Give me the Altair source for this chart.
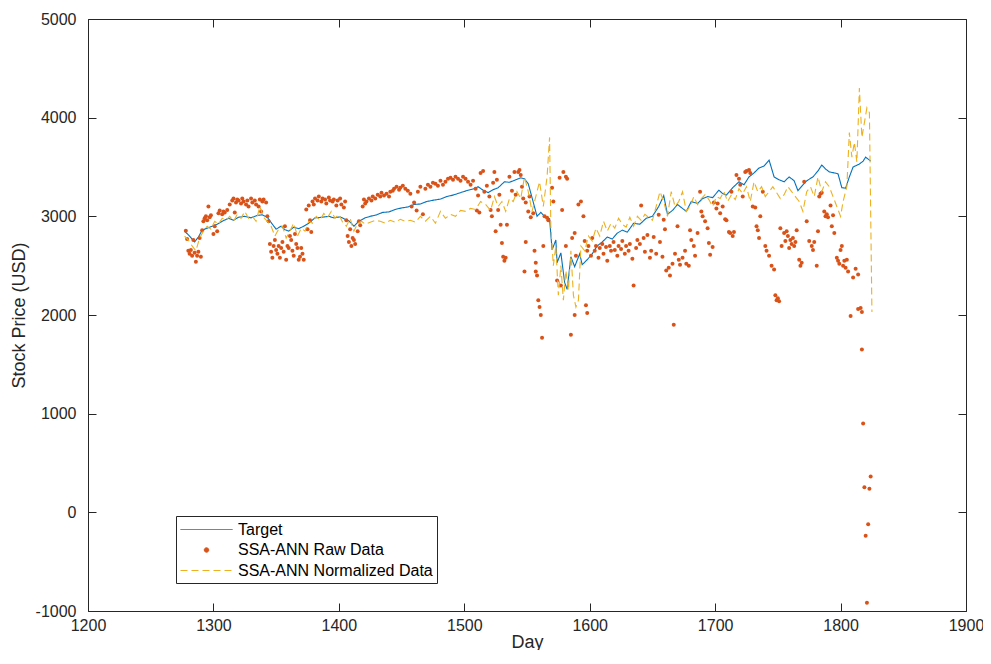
import altair as alt
import pandas as pd

# ---------------- data ----------------
target_day = [1277,1281,1285,1288,1291,1295,1299,1303,1307,1312,1316,1320,1325,1330,1335,1339,1343,1347,1350,1354,
              1357,1360,1364,1368,1372,1376,1381,1386,1392,1396,1401,1405,1408,1412,1416,1421,1425,1430,1435,1440,
              1445,1450,1455,1460,1465,1470,1476,1481,1486,1491,1497,1503,1508,1511,1515,1519,1523,1527,1532,1536,
              1541,1545,1548,1551,1554,1558,1561,1565,1568,1570,1573,1574,1577,1580,1582,1585,1588,1592,1594,1598,
              1602,1606,1610,1614,1618,1622,1626,1630,1635,1640,1645,1650,1655,1659,1662,1666,1670,1674,1677,1681,
              1686,1690,1694,1698,1703,1706,1709,1714,1719,1723,1727,1731,1735,1739,1743,1747,1751,1755,1759,1763,
              1766,1770,1773,1778,1782,1785,1788,1791,1795,1798,1801,1804,1807,1810,1815,1818,1820,1822,1824]
target_val = [2850,2800,2740,2790,2860,2880,2900,2920,2950,2980,2960,2990,3000,2985,3010,3015,2990,2920,2870,2900,
              2865,2850,2890,2875,2900,2930,2985,2990,3000,2985,2995,2970,2955,2900,2950,2985,3000,3015,3040,3045,
              3070,3085,3095,3120,3125,3150,3165,3175,3200,3215,3240,3265,3280,3300,3265,3240,3270,3290,3350,3345,
              3370,3390,3380,3330,3190,3000,3040,2985,2975,2660,2760,2530,2630,2330,2260,2590,2490,2620,2510,2560,
              2620,2700,2740,2790,2770,2830,2860,2840,2930,2920,2980,3000,3100,3210,3020,3060,3120,3080,3050,3150,
              3130,3180,3200,3190,3265,3230,3215,3290,3350,3320,3400,3440,3490,3510,3570,3400,3370,3350,3400,3360,
              3260,3320,3360,3400,3460,3520,3480,3450,3440,3430,3290,3285,3400,3500,3530,3560,3600,3580,3560]

norm_day = [1277,1280,1283,1286,1289,1292,1295,1298,1301,1304,1307,1310,1313,1316,1319,1322,1325,1328,1331,1334,
            1337,1340,1343,1346,1349,1352,1355,1358,1361,1364,1367,1370,1373,1376,1379,1382,1385,1388,1391,1394,
            1397,1400,1403,1406,1409,1412,1415,1418,1421,1425,1429,1433,1437,1441,1445,1449,1453,1457,1461,1465,
            1469,1473,1477,1481,1485,1489,1493,1497,1501,1505,1509,1513,1517,1521,1524,1527,1530,1533,1536,1539,
            1542,1545,1548,1551,1554,1557,1560,1563,1566,1568,1569,1571,1573,1575,1577,1579,1581,1583,1585,1587,
            1589,1591,1593,1596,1599,1602,1605,1608,1611,1614,1617,1620,1623,1626,1629,1632,1635,1638,1641,1644,
            1647,1650,1653,1656,1659,1662,1665,1668,1671,1674,1677,1680,1683,1686,1689,1692,1695,1698,1701,1704,
            1707,1710,1713,1716,1719,1722,1725,1728,1731,1734,1737,1740,1743,1746,1749,1752,1755,1758,1761,1764,
            1767,1770,1773,1776,1779,1782,1785,1788,1791,1794,1797,1800,1802,1805,1807,1809,1811,1813,1815,1817,
            1819,1821,1823,1825]
norm_val = [2800,2760,2700,2650,2780,2850,2900,2870,2950,2920,2980,2960,3000,2950,3020,2980,3050,2980,3000,2950,
            3100,2990,2950,2900,2800,2870,2900,2780,2850,2930,2800,2880,2850,2950,2930,3000,2960,3030,2990,3050,
            2980,3020,2940,2900,2980,2850,2930,2950,2920,2940,2960,2950,2930,2960,2940,2970,2950,2960,2940,3000,
            2950,3000,2930,3050,2980,3020,3000,3060,3050,3080,3070,3150,3120,3060,3200,3100,3150,3050,3180,3150,
            3250,3180,3400,3250,3050,3200,3350,3100,3400,3800,2900,2500,2700,2200,2500,2150,2450,2250,2650,2200,
            2080,2150,2700,2650,2800,2750,2880,2800,2950,2850,2930,2880,2980,2920,2890,2990,2900,3000,2960,3020,
            2990,2960,3100,3250,3150,3000,3250,3100,3150,3250,3050,3100,3200,3120,3180,3220,3170,3100,3200,3180,
            3250,3150,3220,3170,3280,3230,3300,3150,3350,3250,3300,3200,3250,3300,3240,3180,3220,3300,3250,3200,
            3150,3050,3250,3300,3200,3400,3250,3350,3300,3200,3100,3000,3150,3300,3850,3600,3750,3550,4300,3800,
            3950,4100,4050,2030]

raw_day = [1278,1279,1280,1281,1282,1283,1284,1285,1286,1287,1288,1289,1290,1291,1292,1293,1294,1295,1296,1297,
           1298,1300,1301,1303,1304,1305,1307,1308,1309,1311,
           1313,1315,1316,1317,1318,1319,1320,1322,1323,1324,1326,1327,1328,1330,1331,1333,1334,1336,1337,1338,
           1339,1340,1342,1343,1344,
           1345,1346,1347,1348,1349,1350,1351,1352,1353,1354,1355,1356,1357,1358,1359,1360,1361,1362,1363,1364,
           1365,1366,1367,1368,1369,1370,1371,1372,1374,1375,1376,1377,1378,
           1379,1380,1381,1383,1384,1386,1387,1389,1390,1392,1393,1395,1396,1398,1399,1401,1402,1404,1405,
           1406,1407,1408,1409,1410,1411,1412,1413,1415,1416,1417,1419,1420,1421,
           1422,1424,1426,1427,1429,1431,1433,1434,1436,1438,1440,1441,1443,1444,1446,1448,1449,1451,1453,1455,
           1457,1458,1460,1462,1463,1465,1467,1469,1471,1473,1475,1477,1479,1481,1483,1485,1487,1489,1491,1493,
           1495,1497,1499,1501,1503,1505,1507,1509,1510,1511,1512,1513,1515,1516,1518,1520,
           1521,1522,1523,1524,1525,1526,1527,1528,1529,1530,1531,1532,1533,1534,1536,1538,1540,1541,1543,1544,
           1545,1546,1547,1548,1549,1549,1551,1552,1553,1555,1556,1557,1557,1558,1559,1560,1561,1562,1563,1564,
           1566,1567,1570,1571,1574,1576,1577,1578,1579,1581,1581,1582,1585,1586,1588,1588,1589,1591,1593,1595,
           1597,1598,
           1596,1598,1599,1601,1602,1604,1605,1607,1608,1610,1611,1613,1614,1616,1617,1619,1620,1622,1623,1625,
           1626,1628,1629,1631,1632,1634,1635,1637,1638,1640,1641,1643,1644,1646,1648,1649,
           1651,1653,1655,1656,1658,1659,1660,1661,1663,1664,1666,1667,1668,1670,1671,1672,1674,1676,1677,1679,
           1680,1681,1683,1684,1686,1688,1689,1690,1692,1694,1695,1696,1698,1699,1701,1702,1704,1706,1708,1709,
           1711,1712,1713,1714,1715,1717,1719,1720,1722,1724,1725,1727,1728,1730,1732,1733,1734,1735,1736,1738,
           1740,1741,1743,1745,1747,1748,1749,1750,1751,1752,1753,1755,1756,
           1757,1758,1759,1760,1761,1762,1763,1764,1765,1767,1768,1769,1771,1773,1775,1777,1778,1779,1781,1782,
           1783,1784,1785,1787,1788,1789,1790,1792,1793,1794,1795,1797,1798,1799,1800,1801,1802,1803,1804,1805,
           1806,1808,1810,1812,1814,1814,1816,1817,1817,1818,1819,1820,1821,1822,1823,1824]
raw_val = [2855,2770,2650,2620,2660,2600,2760,2630,2540,2600,2640,2780,2590,2860,2950,2980,3000,2960,3100,2990,
           3010,2820,2900,2850,3030,3060,3020,3050,3040,3065,
           3120,3160,3180,3040,3140,3170,3160,3130,3180,3150,3120,3160,3100,3180,3140,3160,3120,3100,3170,3050,
           3150,3170,3140,3000,2950,
           2720,2640,2580,2700,2760,2660,2620,2700,2580,2680,2740,2640,2900,2560,2700,2680,2800,2760,2650,2600,
           2820,2720,2680,2560,2590,2680,2620,2560,3070,2870,3110,2960,2840,
           3150,3120,3180,3160,3200,3150,3180,3170,3130,3190,3160,3150,3170,3110,3160,3180,3120,3090,3150,
           2960,2800,2740,2870,2700,2780,2760,2720,2850,2950,2910,3100,3170,3130,
           3150,3180,3160,3200,3180,3220,3200,3240,3210,3230,3200,3250,3260,3280,3300,3270,3290,3310,3280,3260,
           3230,3100,3140,3060,3250,3300,3020,3280,3320,3300,3340,3330,3310,3360,3320,3350,3380,3390,3370,3400,
           3380,3360,3400,3380,3350,3320,3360,3280,3060,3210,3040,3440,3460,3250,3310,3200,
           3065,3000,3340,3450,2850,3370,3065,3220,2915,2730,2590,2550,2580,2915,3400,3260,3450,3220,3450,3470,
           3420,3300,3180,2440,2740,3140,3050,3200,2990,3030,2650,2530,2440,2400,2150,2080,2000,1770,2700,3000,
           2985,2960,3290,3150,2350,3390,2300,3065,3450,3400,2700,3380,1800,2780,2000,2830,2600,3120,3150,3000,
           2100,2020,
           2750,2650,2700,2600,2780,2650,2700,2580,2680,2720,2620,2690,2550,2700,2650,2740,2660,2600,2700,2670,
           2750,2620,2700,2650,2720,2570,2300,2680,2760,2720,3110,2780,2640,2810,2580,2650,
           2790,2620,3015,2740,2590,2965,2870,2450,2480,2400,2520,1900,2620,2900,2560,2510,2580,2650,2520,2500,
           2860,2760,2700,2600,2830,3250,3050,3000,2950,2880,2730,2610,2690,3140,3080,3130,3030,3100,2970,2960,
           2840,2830,3250,2800,2840,3420,3380,3320,3200,3450,3460,3470,3440,3100,3090,2900,2860,2780,3000,3250,
           2700,2650,2600,2500,2460,2200,2150,2170,2140,2880,2700,2830,2750,
           2850,2800,2680,2760,2720,2780,2700,2740,2860,2560,2500,2530,3350,2950,2750,2700,2660,2740,2500,2850,
           3200,3230,3240,3050,3000,3020,2990,3110,2900,3010,2830,2580,2550,2520,2660,2700,2500,2550,2480,2560,
           2440,1990,2380,2470,2410,2060,2070,2030,1650,900,255,-237,-916,-120,240,364]

S_T = "Target"
S_R = "SSA-ANN Raw Data"
S_N = "SSA-ANN Normalized Data"
series = [S_T, S_R, S_N]
colors = ["#0072BD", "#D95319", "#EDB120"]
x_ticks = [1200, 1300, 1400, 1500, 1600, 1700, 1800, 1900]
y_ticks = [-1000, 0, 1000, 2000, 3000, 4000, 5000]

df = pd.concat([
    pd.DataFrame({"day": target_day, "price": target_val, "series": S_T}),
    pd.DataFrame({"day": raw_day, "price": raw_val, "series": S_R}),
    pd.DataFrame({"day": norm_day, "price": norm_val, "series": S_N}),
], ignore_index=True)

# ---------------- styling ----------------
FONT = "Liberation Sans"
INK = "#262626"

x_scale = alt.Scale(domain=[1200, 1900], nice=False, zero=False)
y_scale = alt.Scale(domain=[-1000, 5000], nice=False, zero=False)
color_scale = alt.Scale(domain=series, range=colors)
dash_scale = alt.Scale(domain=series, range=[[1, 0], [1, 0], [7, 4]])
line_path = "M -1 0 L 4.78 0"
dot_path = "M 1.64 0 A 0.25 0.25 0 1 0 2.14 0 A 0.25 0.25 0 1 0 1.64 0 Z"
shape_scale = alt.Scale(domain=series, range=[line_path, dot_path, line_path])

legend = alt.Legend(title=None, orient="none", legendX=88, legendY=497,
                    fillColor="white", strokeColor=INK, padding=4, cornerRadius=0,
                    labelFont=FONT, labelFontSize=16, labelColor="black", labelLimit=400,
                    labelOffset=39, symbolSize=324, symbolStrokeWidth=1,
                    rowPadding=2.5, symbolFillColor="#D95319")

x_axis = alt.Axis(values=x_ticks, labelExpr="'' + datum.value", title="Day", tickSize=8, offset=-8,
                  domain=False, grid=False, labelPadding=6, titlePadding=0,
                  labelFlush=False, labelOverlap=False)
y_axis = alt.Axis(values=y_ticks, labelExpr="'' + datum.value", title="Stock Price (USD)",
                  tickSize=8, offset=-8, domain=False, grid=False, labelPadding=12, titlePadding=7,
                  labelFlush=False, labelOverlap=False)

base = alt.Chart(df)
X = alt.X("day:Q", scale=x_scale, axis=x_axis)
Y = alt.Y("price:Q", scale=y_scale, axis=y_axis)
C = alt.Color("series:N", scale=color_scale, legend=legend)
D = alt.StrokeDash("series:N", scale=dash_scale, legend=legend)
SH = alt.Shape("series:N", scale=shape_scale, legend=legend)

target = base.transform_filter(alt.datum.series == S_T).mark_line(strokeWidth=1.1).encode(
    x=X, y=Y, color=C, strokeDash=D)
raw = base.transform_filter(alt.datum.series == S_R).mark_circle(size=16, opacity=1).encode(
    x=X, y=Y, color=C)
norm = base.transform_filter(alt.datum.series == S_N).mark_line(strokeWidth=1.1).encode(
    x=X, y=Y, color=C, strokeDash=D)
legend_only = base.transform_filter("false").mark_point(filled=True, size=324, opacity=1).encode(
    x=X, y=Y, color=C, shape=SH, strokeDash=D)

frame = base.transform_filter(alt.datum.series == S_T).mark_line(opacity=0).encode(
    x=alt.X("day:Q", scale=x_scale,
            axis=alt.Axis(orient="top", values=x_ticks, labels=False, title=None, tickSize=8,
                          offset=-8, domain=False, grid=False)),
    y=alt.Y("price:Q", scale=y_scale,
            axis=alt.Axis(orient="right", values=y_ticks, labels=False, title=None, tickSize=8,
                          offset=-8, domain=False, grid=False)))

chart = alt.layer(alt.layer(target, raw, norm, legend_only), frame).resolve_axis(
    x="independent", y="independent"
).properties(
    width=878, height=592,
    autosize=alt.AutoSizeParams(type="none"),
    padding={"left": 80, "top": 11, "right": 17, "bottom": 39},
    background="white",
).configure_view(
    stroke=INK, strokeWidth=1
).configure_axis(
    labelFont=FONT, labelFontSize=16, labelColor=INK,
    titleFont=FONT, titleFontSize=18, titleFontWeight="normal", titleColor=INK,
    tickColor=INK, tickWidth=1
)

chart.save("out.html", embed_options={"renderer": "svg", "actions": False})
